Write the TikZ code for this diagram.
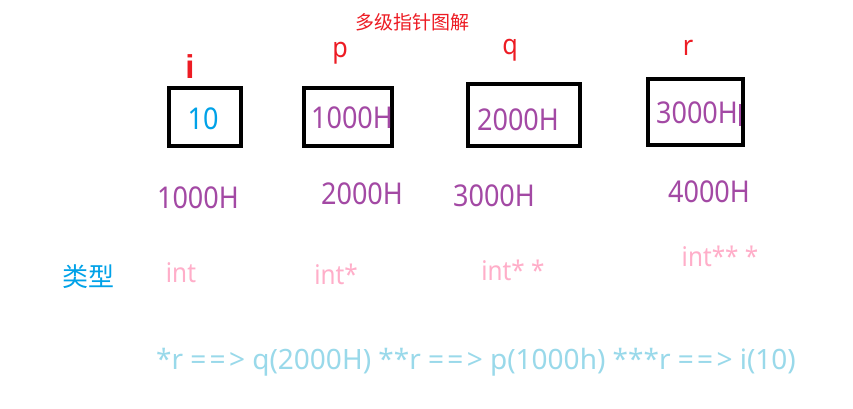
\documentclass[tikz,border=0pt]{standalone}
\usepackage{fontspec}
\setmainfont[FakeStretch=0.9]{Noto Sans}
\newfontfamily\cjk{Noto Sans CJK SC}
\newfontfamily\plainsans{Noto Sans}
\newfontfamily\boldsans{Liberation Sans}
\definecolor{pred}{RGB}{237,28,36}
\definecolor{pblue}{RGB}{0,162,232}
\definecolor{ppurple}{RGB}{163,73,164}
\definecolor{ppink}{RGB}{255,174,201}
\definecolor{pcyan}{RGB}{153,217,234}
\newcommand{\arrw}{={\kern3.3pt}={\kern3.3pt}>}
\begin{document}
\begin{tikzpicture}[x=1pt,y=-1pt,
    cell/.style={draw,line width=3.2pt,inner sep=0pt},
    varname/.style={text=pred,font=\fontsize{28}{28}\selectfont,inner sep=0pt},
    addr/.style={text=ppurple,font=\fontsize{30}{30}\selectfont,inner sep=0pt},
    typ/.style={text=ppink,font=\fontsize{27}{27}\selectfont,inner sep=0pt}]
  \useasboundingbox[fill=white] (0,0) rectangle (853,409);
  % title
  \node[text=pred,font=\cjk\fontsize{19}{19}\selectfont,inner sep=0pt] (title) at (412,22) {多级指针图解};
  % variable names
  \node[varname,font=\boldsans\bfseries\fontsize{33}{33}\selectfont] (ni) at (190,67) {i};
  \node[varname] (np) at (340,53) {p};
  \node[varname] (nq) at (510,50) {q};
  \node[varname] (nr) at (688,48) {r};
  % memory cells
  \node[cell,minimum width=72pt,minimum height=58pt] (bi) at (205,117) {};
  \node[cell,minimum width=88pt,minimum height=58pt] (bp) at (348,117) {};
  \node[cell,minimum width=112pt,minimum height=62pt] (bq) at (524,115) {};
  \node[cell,minimum width=95pt,minimum height=66pt] (br) at (695.5,112) {};
  % values
  \node[addr,text=pblue] (vi) at (203,119) {10};
  \node[addr] (vp) at (352,118) {1000H};
  \node[addr] (vq) at (518,120) {2000H};
  \node[addr] (vr) at (697,113) {3000H};
  \draw[ppurple,line width=2.5pt] (740,104) -- (740,126);
  % addresses
  \node[addr] (ai) at (198,198) {1000H};
  \node[addr] (ap) at (362,194) {2000H};
  \node[addr] (aq) at (494,196) {3000H};
  \node[addr] (ar) at (709,192) {4000H};
  % types
  \node[text=pblue,font=\cjk\fontsize{26}{26}\selectfont,inner sep=0pt] (lbl) at (88,277) {类型};
  \node[typ] (ti) at (181,273) {int};
  \node[typ] (tp) at (336,274) {int*};
  \node[typ] (tq) at (513,270) {int* *};
  \node[typ] (tr) at (720,256) {int** *};
  % dereference chain
  \node[text=pcyan,font=\plainsans\fontsize{28}{28}\selectfont,inner sep=0pt] (deref) at (476,362)
    {*r \arrw{} q(2000H) **r \arrw{} p(1000h) ***r \arrw{} i(10)};
\end{tikzpicture}
\end{document}
